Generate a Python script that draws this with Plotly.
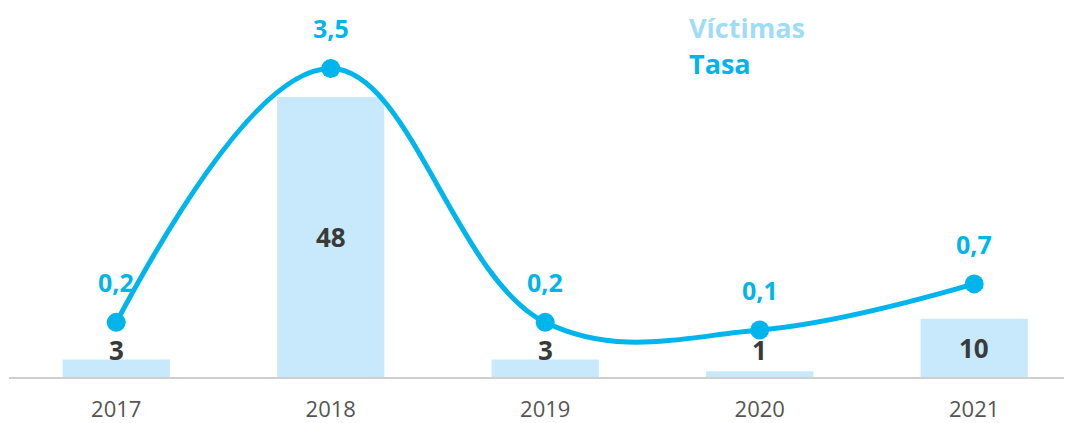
import plotly.graph_objects as go

years = ["2017", "2018", "2019", "2020", "2021"]
victimas = [3, 48, 3, 1, 10]
tasa = [0.2, 3.5, 0.2, 0.1, 0.7]

BAR_COLOR = "#c8e9fb"
LINE_COLOR = "#00b5ec"
LEGEND_LIGHT = "#9fdcf7"
TEXT_DARK = "#3a3a3a"

bar_font = dict(family="Open Sans", size=26, color=TEXT_DARK, weight="bold")

fig = go.Figure()
fig.add_trace(go.Bar(
    x=years, y=victimas, name="Víctimas",
    marker=dict(color=BAR_COLOR, line=dict(width=0)),
    width=0.5,
))
fig.add_trace(go.Scatter(
    x=years, y=tasa, name="Tasa", yaxis="y2",
    mode="lines+markers",
    line=dict(color=LINE_COLOR, width=5, shape="spline", smoothing=1.1),
    marker=dict(color=LINE_COLOR, size=19),
    cliponaxis=False,
))

# bar value labels: middle of tall bars, just above the baseline for short ones
for i, v in enumerate(victimas):
    if v >= 5:
        fig.add_annotation(x=i, y=v / 2, xref="x", yref="y", showarrow=False,
                           text=str(v), font=bar_font)
    else:
        fig.add_annotation(x=i, y=0, xref="x", yref="y", yshift=27, showarrow=False,
                           text=str(v), font=bar_font)

# value labels above the line markers
for i, y in enumerate(tasa):
    fig.add_annotation(
        x=i, y=y, xref="x", yref="y2", yshift=40, showarrow=False,
        text=f"{y:.1f}".replace(".", ","),
        font=dict(family="Open Sans", size=25, color=LINE_COLOR, weight="bold"),
    )

# legend as coloured text
fig.add_annotation(x=0.638, y=0.978, xref="paper", yref="paper", xanchor="left", yanchor="middle",
                   showarrow=False, text="<b>Víctimas</b>",
                   font=dict(family="Open Sans", size=27, color=LEGEND_LIGHT))
fig.add_annotation(x=0.638, y=0.877, xref="paper", yref="paper", xanchor="left", yanchor="middle",
                   showarrow=False, text="<b>Tasa</b>",
                   font=dict(family="Open Sans", size=27, color=LINE_COLOR))

fig.update_layout(
    width=1064, height=415,
    margin=dict(l=1, r=0, t=12, b=46),
    paper_bgcolor="white", plot_bgcolor="white",
    showlegend=False,
    separators=",.",
    font=dict(family="Open Sans", color="#555555"),
    xaxis=dict(
        type="category", range=[-0.5, 4.456],
        showline=True, linecolor="#cfcfcf", linewidth=2,
        showgrid=False, ticks="", ticklabelstandoff=12,
        tickfont=dict(size=22, color="#555555"),
    ),
    yaxis=dict(range=[0, 61.2], visible=False, showgrid=False, zeroline=False),
    yaxis2=dict(range=[-0.51, 4.13], overlaying="y", visible=False, showgrid=False, zeroline=False),
)

fig.write_html("out.html")
